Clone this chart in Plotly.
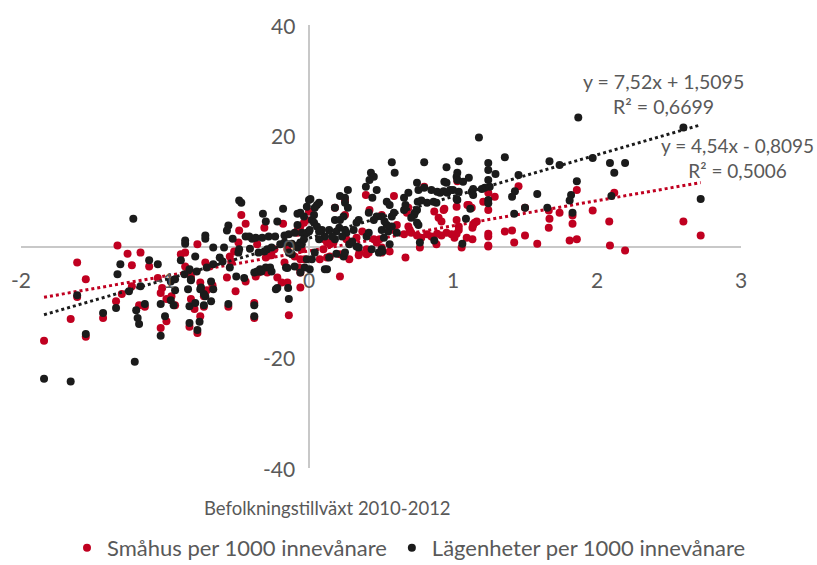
import plotly.graph_objects as go

# ---- data (x = Befolkningstillväxt 2010-2012, y = per 1000 innevånare) ----
smahus_points = [
    (-1.84,-17.0),(-1.655,-13.1),(-1.61,-2.9),(-1.61,-9.1),(-1.55,-5.9),(-1.55,-16.3),(-1.43,-12.9),
    (-1.34,-9.9),(-1.33,0.2),(-1.26,-1.3),(-1.17,-1.1),(-1.23,-3.4),(-1.11,-3.6),(-1.05,-5.7),
    (-1.30,-8.6),(-1.23,-7.2),(-1.18,-10.6),(-1.14,-10.9),(-1.03,-14.7),(-1.03,-8.4),(-1.02,-7.5),
    (-0.99,-13.5),(-0.99,-9.5),(-0.955,-9.0),(-0.93,-10.6),(-0.89,-1.4),(-0.86,-3.6),(-0.84,-4.5),
    (-0.82,-5.4),(-0.86,-1.1),(-0.775,0.4),(-0.82,-9.5),(-0.755,-6.5),(-0.795,-11.3),(-0.755,-12.6),
    (-0.83,-14.5),(-0.775,-15.6),(-0.71,-7.9),(-0.67,-7.0),(-0.73,-9.0),(-0.73,-10.9),(-0.56,-10.9),
    (-0.38,-10.2),(-0.38,-12.9),(-0.47,5.7),(-0.44,4.1),(-0.485,2.9),(-0.49,0.7),(-0.52,-0.9),
    (-0.54,-2.7),(-0.55,-1.8),(-0.72,-2.9),(-0.69,-3.6),(-0.57,-5.6),(-0.51,-8.1),(-0.44,-6.3),
    (-0.37,-5.4),(-0.35,-4.7),(-0.29,-4.7),(-0.22,-5.6),(-0.19,-6.5),(-0.15,-6.5),(-0.06,-7.4),
    (-0.14,-12.4),(-0.18,4.1),(-0.31,3.4),(-0.02,4.8),(-0.08,2.9),(-0.24,-0.5),(-0.10,-1.8),
    (-0.06,-2.3),(-0.03,-2.3),(-0.17,-2.9),(-0.07,-3.8),(-0.06,-4.7),(-0.36,0.4),(-0.30,-2.0),
    (-0.26,-1.6),(-0.15,-0.5),(-0.05,-0.5),(-0.08,2.5),(-0.06,3.6),(-0.035,4.3),
    (0.215,-5.4),(0.67,-2.0),(0.395,9.3),(0.59,9.1),(0.0,6.3),(0.18,7.0),(0.25,8.3),(0.25,5.7),
    (0.80,10.8),(1.03,11.8),(1.025,7.2),(0.69,7.0),(0.68,6.1),(0.90,5.2),(0.92,4.5),(1.025,4.8),
    (1.04,3.0),(0.94,6.8),(0.87,6.3),(0.935,6.6),(1.10,7.5),(1.21,8.1),(1.245,6.6),(0.69,3.6),
    (0.70,3.0),(0.71,2.5),(0.75,2.0),(0.78,1.6),(0.82,2.2),(0.85,1.8),(0.89,2.3),(0.92,2.0),
    (0.955,2.5),(0.99,2.2),(1.01,1.6),(0.505,-0.2),(0.56,-0.9),(0.345,-1.6),(0.40,-1.4),(0.415,-1.1),
    (0.28,-2.3),(0.505,-1.1),(0.77,-0.2),(0.885,0.4),(1.245,0.0),(0.075,-2.3),(0.125,-2.0),
    (0.215,-1.4),(0.45,1.3),(0.47,0.7),(0.49,1.3),(0.40,-0.5),(0.35,-1.1),(0.10,-0.5),(0.145,-1.8),
    (0.105,1.3),(0.125,0.7),(0.145,0.4),(0.17,0.7),(0.59,3.0),(0.61,3.9),(0.66,2.2),(0.42,6.6),
    (0.505,5.7),(0.33,1.6),(0.37,2.7),(0.26,1.3),
    (1.11,7.5),(1.13,7.0),(1.245,9.7),(1.29,9.0),(1.455,10.9),(1.86,10.2),(1.83,5.6),(1.83,4.1),
    (1.74,6.1),(1.665,6.5),(1.67,5.0),(1.665,3.4),(1.97,6.5),(2.085,4.5),(2.12,9.7),(2.60,4.5),
    (2.72,2.0),(2.09,0.2),(2.195,-0.7),(1.50,7.0),(1.36,2.7),(1.41,2.9),(1.50,2.0),(1.425,0.7),
    (1.585,0.5),(1.81,1.1),(1.86,1.3),(1.245,2.3),(1.245,1.8),(1.245,0.2),(1.135,3.4),(1.14,3.9),
    (1.15,4.3),(1.165,4.5),(1.04,3.6),(1.025,2.3),(1.095,1.6),(1.135,1.3),(1.06,-0.2),
]

lagenheter_points = [
    (-1.84,-23.9),(-1.655,-24.4),(-1.21,-20.8),(-1.22,5.0),(-1.61,-8.8),(-1.55,-15.8),(-1.43,-12.0),
    (-1.34,-11.1),(-1.31,-3.2),(-1.33,-5.0),(-1.25,-8.1),(-1.17,-7.2),(-1.11,-2.5),(-1.05,-3.2),
    (-1.20,-11.5),(-1.19,-12.9),(-1.18,-14.0),(-1.14,-10.4),(-1.03,-10.4),(-1.03,-16.1),(-1.00,-12.6),
    (-0.96,-9.7),(-0.94,-10.6),(-0.93,-7.9),(-0.89,-2.5),(-0.86,0.5),(-0.86,1.1),(-0.79,-1.8),
    (-0.72,1.4),(-0.72,2.0),(-0.665,-0.2),(-0.59,-0.2),(-0.485,8.3),(-0.47,7.9),(-0.56,3.8),
    (-0.57,2.9),(-0.53,1.4),(-0.44,1.8),(-0.395,1.4),(-0.485,-0.5),(-0.41,-0.4),(-0.83,-4.1),
    (-0.82,-6.1),(-0.75,-7.4),(-0.83,-10.8),(-0.79,-10.2),(-0.76,-13.6),(-0.83,-13.8),(-0.775,-15.1),
    (-0.72,-9.0),(-0.665,-7.7),(-0.68,-9.9),(-0.56,-10.4),(-0.45,-5.7),(-0.38,-10.6),(-0.38,-12.6),
    (-0.73,-8.6),(-0.73,-10.6),(-0.68,-6.3),(-0.755,-7.7),(-0.84,-7.7),(-0.96,-6.3),(-0.93,-5.9),
    (-0.78,-4.5),(-0.71,-3.8),(-0.665,-3.2),(-0.865,-5.0),(-0.82,-5.9),(-0.62,-2.0),(-0.60,-2.7),
    (-0.55,-3.8),(-0.505,-5.4),(-0.38,-4.7),(-0.36,-4.5),(-0.34,-4.1),(-0.30,-3.8),(-0.27,-3.8),
    (-0.23,-7.7),(-0.145,-7.5),(-0.14,-9.5),(-0.16,-3.8),(-0.14,-1.1),(-0.12,-1.4),(-0.03,-3.8),
    (-0.49,-1.1),(-0.35,-1.1),(-0.31,-0.9),(-0.29,-0.5),(-0.26,-0.2),(-0.20,0.4),(-0.17,0.7),
    (-0.12,0.5),(-0.08,0.2),(-0.05,0.4),(-0.415,1.8),(-0.37,1.6),(-0.325,1.6),(-0.28,1.8),
    (-0.235,1.8),(-0.17,2.0),(-0.14,2.2),(-0.10,2.5),(-0.05,2.5),(-0.03,2.2),(0.0,2.7),(-0.32,5.9),
    (-0.18,6.8),(-0.22,4.5),(-0.30,4.5),(-0.08,5.9),(-0.06,6.1),(-0.015,7.2),(0.01,8.6),(-0.08,3.9),
    (-0.22,-7.5),(-0.35,-4.5),(-0.33,-4.5),(-0.26,-4.5),(-0.06,-4.7),(-0.10,-3.6),(-0.15,-3.9),
    (-0.08,-0.2),(-0.06,0.7),(-0.035,1.3),(-0.015,2.5),(-0.035,5.4),(-0.015,-2.3),
    (0.575,15.2),(0.80,15.2),(0.595,13.3),(0.43,13.3),(0.45,12.6),(0.42,12.0),(0.395,10.8),
    (0.47,10.2),(0.44,8.8),(0.27,10.2),(0.25,8.8),(0.215,9.1),(0.25,7.9),(0.27,7.0),(0.18,7.0),
    (0.07,7.9),(0.055,7.5),(0.04,7.0),(0.0,8.4),(0.54,8.1),(0.56,7.5),(0.59,6.1),(0.575,5.4),
    (0.66,8.8),(0.69,9.7),(0.67,7.5),(0.66,6.6),(0.75,11.5),(0.76,10.2),(0.80,10.6),(0.85,10.2),
    (0.89,9.9),(0.91,9.7),(0.935,10.0),(0.96,9.7),(0.955,14.3),(0.94,11.7),(1.04,15.4),(1.03,13.3),
    (1.025,12.6),(1.03,8.4),(0.755,8.1),(0.78,8.3),(0.82,7.9),(0.865,8.1),(0.885,7.9),(0.75,6.6),
    (0.735,6.1),(0.73,5.7),(0.71,5.2),(0.75,4.3),(0.76,3.9),(0.77,0.7),(0.87,1.1),(0.51,-0.9),
    (0.56,0.4),(0.345,-0.2),(0.24,-1.8),(0.14,-2.0),(0.11,-4.1),(0.505,3.0),(0.55,2.7),(0.575,3.6),
    (0.54,3.9),(0.525,4.5),(0.505,5.4),(0.47,5.4),(0.45,4.8),(0.415,6.1),(0.40,1.8),(0.415,2.5),
    (0.345,4.8),(0.33,4.3),(0.25,3.0),(0.26,2.5),(0.21,3.4),(0.19,2.7),(0.23,1.8),(0.18,1.3),
    (0.16,1.8),(0.18,4.8),(0.14,3.0),(0.11,1.8),(0.09,3.0),(0.07,1.3),(0.02,4.8),(0.035,5.7),
    (0.035,4.3),(0.055,3.6),(0.07,2.7),(0.24,5.4),(0.215,4.8),(0.61,2.5),(0.505,-0.5),(0.33,0.0),
    (0.25,-1.1),(0.28,0.4),(0.30,0.9),(0.31,3.0),(0.435,-0.5),(0.485,-1.1),(0.52,1.6),(0.02,-2.3),
    (0.005,-4.1),(0.005,3.0),(0.125,-4.1),(0.04,-1.1),(0.19,-1.3),
    (1.87,23.3),(1.18,19.7),(1.245,15.1),(1.245,13.8),(1.36,16.1),(1.295,13.1),(1.11,12.4),
    (1.03,12.0),(1.67,15.4),(1.74,14.7),(1.97,16.0),(2.09,15.1),(2.195,15.1),(2.12,13.3),
    (2.60,21.5),(2.72,8.6),(2.10,9.1),(1.455,12.9),(1.245,12.0),(1.255,10.8),(1.22,10.6),
    (1.20,10.4),(1.14,10.4),(1.13,9.9),(1.14,9.3),(1.04,9.9),(1.025,8.6),(1.245,8.4),(1.43,10.0),
    (1.41,9.0),(1.585,9.5),(1.86,11.8),(1.82,9.3),(1.81,8.3),(1.83,6.1),(1.655,7.0),(1.50,7.0),
    (1.425,5.9),(1.065,0.5),(1.12,6.8),(1.09,5.0),(1.245,7.8),(0.955,11.5),(0.98,10.2),(1.0,10.2),
    (1.07,11.7),
]

# trendline coefficients (slope, intercept) and labels as shown
smahus_trend = (4.54, -0.8095)
lagenheter_trend = (7.52, 1.5095)
smahus_label = "y = 4,54x - 0,8095<br>R² = 0,5006"
lagenheter_label = "y = 7,52x + 1,5095<br>R² = 0,6699"

x_ticks = [-2, -1, 0, 1, 2, 3]
y_ticks = [40, 20, 0, -20, -40]

series_names = ["Småhus per 1000 innevånare", "Lägenheter per 1000 innevånare"]
RED = "#c00020"
BLACK = "#1b1b1b"
GREY_TXT = "#595959"
FONT = "Lato, 'Open Sans', sans-serif"

# plot area in pixels (for paper-positioned texts)
L, R, T, B = 21, 741, 25, 468

fig = go.Figure()

def add_series(points, trend, name, color):
    xs = [p[0] for p in points]
    ys = [p[1] for p in points]
    fig.add_trace(go.Scatter(x=xs, y=ys, mode="markers", name=name,
                             marker=dict(color=color, size=8, line=dict(width=0))))
    x0, x1 = min(xs), max(xs)
    a, b = trend
    fig.add_trace(go.Scatter(x=[x0, x1], y=[a * x0 + b, a * x1 + b], mode="lines",
                             line=dict(color=color, width=3, dash="dot"),
                             showlegend=False, hoverinfo="skip"))

add_series(smahus_points, smahus_trend, series_names[0], RED)
add_series(lagenheter_points, lagenheter_trend, series_names[1], BLACK)

ann = []
for t in x_ticks:
    ann.append(dict(x=t, y=0, xref="x", yref="y", text=str(t), showarrow=False,
                    xanchor="center", yanchor="middle", yshift=-33,
                    font=dict(family=FONT, size=21, color=GREY_TXT)))
for t in y_ticks:
    ann.append(dict(x=0, y=t, xref="x", yref="y", text=str(t), showarrow=False,
                    xanchor="right", yanchor="middle", xshift=-12,
                    font=dict(family=FONT, size=21, color=GREY_TXT)))
ann.append(dict(x=2.46, y=27.5, xref="x", yref="y", text=lagenheter_label, showarrow=False,
                xanchor="center", yanchor="middle", align="center",
                font=dict(family=FONT, size=19.5, color=GREY_TXT)))
ann.append(dict(x=2.975, y=16.0, xref="x", yref="y", text=smahus_label, showarrow=False,
                xanchor="center", yanchor="middle", align="center",
                font=dict(family=FONT, size=19, color=GREY_TXT)))
ann.append(dict(x=(327 - L) / (R - L), y=(B - 508) / (B - T), xref="paper", yref="paper",
                text="Befolkningstillväxt 2010-2012", showarrow=False,
                xanchor="center", yanchor="middle",
                font=dict(family=FONT, size=18.5, color=GREY_TXT)))

fig.update_layout(
    width=817, height=565,
    margin=dict(l=L, r=817 - R, t=T, b=565 - B, autoexpand=False),
    paper_bgcolor="white", plot_bgcolor="white",
    font=dict(family=FONT, color=GREY_TXT),
    xaxis=dict(range=[-2, 3], showgrid=False, zeroline=True, zerolinecolor="#c8c8c8",
               zerolinewidth=2, showticklabels=False, showline=False, fixedrange=True),
    yaxis=dict(range=[-40, 40], showgrid=False, zeroline=True, zerolinecolor="#c8c8c8",
               zerolinewidth=2, showticklabels=False, showline=False, fixedrange=True),
    annotations=ann,
    showlegend=True,
    legend=dict(orientation="h", x=(409 - L) / (R - L), xanchor="center",
                y=(B - 548) / (B - T), yanchor="middle",
                font=dict(family=FONT, size=22, color=GREY_TXT),
                itemwidth=30, tracegroupgap=0),
)

fig.write_html("out.html", config={"displayModeBar": False},
               post_script="document.body.style.margin='0';document.body.style.overflow='hidden';")
